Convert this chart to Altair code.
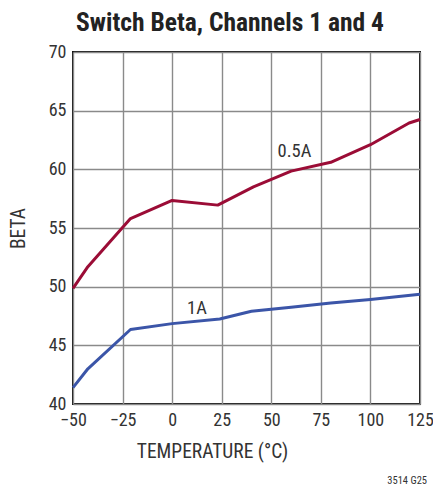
import altair as alt
import pandas as pd

# 0.5A series
t_05 = [-50, -42.5, -21, 0, 23, 41, 60, 80, 100, 119.5, 125]
b_05 = [49.85, 51.7, 55.8, 57.35, 56.95, 58.5, 59.85, 60.6, 62.1, 63.95, 64.25]
# 1A series
t_1 = [-50, -42.5, -21, 0, 24, 40, 60, 80, 100, 125]
b_1 = [41.4, 43.0, 46.35, 46.85, 47.25, 47.9, 48.25, 48.6, 48.9, 49.35]

label_text = ["0.5A", "1A"]
label_t = [61.7, 12.5]
label_b = [61.55, 48.2]

x_ticks = [-50, -25, 0, 25, 50, 75, 100, 125]
y_ticks = [40, 45, 50, 55, 60, 65, 70]

df = pd.concat([
    pd.DataFrame({"t": t_05, "beta": b_05, "series": "0.5A"}),
    pd.DataFrame({"t": t_1, "beta": b_1, "series": "1A"}),
])
lab = pd.DataFrame({"t": label_t, "beta": label_b, "text": label_text})

FONT = "Roboto Condensed, Liberation Sans Narrow, DejaVu Sans Condensed, Liberation Sans, sans-serif"

xs = alt.Scale(domain=[-50, 125], nice=False)
ys = alt.Scale(domain=[40, 70], nice=False)

lines = alt.Chart(df).mark_line(strokeWidth=3, strokeJoin="round").encode(
    x=alt.X("t:Q", scale=xs, axis=alt.Axis(
        values=x_ticks, title="TEMPERATURE (°C)", grid=True, labelFlush=False,
        titleX=139, titleY=53, titleBaseline="alphabetic", titleAlign="center")),
    y=alt.Y("beta:Q", scale=ys, axis=alt.Axis(values=y_ticks, title="BETA", grid=True)),
    color=alt.Color("series:N", scale=alt.Scale(domain=["0.5A", "1A"], range=["#9B0C36", "#3B55A8"]), legend=None),
    detail="series:N",
)

labels = alt.Chart(lab).mark_text(font=FONT, fontSize=18.5, color="#333333").encode(
    x=alt.X("t:Q", scale=xs), y=alt.Y("beta:Q", scale=ys), text="text:N")

foot = alt.Chart(pd.DataFrame({"f": ["3514 G25"]})).mark_text(
    font=FONT, fontSize=10.5, color="#333333", align="right", baseline="alphabetic").encode(
    x=alt.value(354), y=alt.value(432), text="f:N")

chart = alt.layer(lines, labels, foot).properties(
    width=347, height=352,
    padding={"left": 65, "top": 44, "right": 13, "bottom": 86},
    autosize=alt.AutoSizeParams(type="none"),
    title=alt.TitleParams("Switch Beta, Channels 1 and 4", font=FONT, fontSize=25.5,
                          fontWeight="bold", color="#222222", anchor="middle", dx=-16.5, offset=7),
).configure_view(stroke="#111111", strokeWidth=2).configure_axis(
    labelFont=FONT, labelFontSize=18, labelColor="#333333",
    titleFont=FONT, titleFontSize=19.5, titleFontWeight="normal", titleColor="#333333",
    gridColor="#8a8a8a", gridWidth=1.4, gridOpacity=1,
    domain=False, ticks=False, labelPadding=7,
).configure_axisY(titlePadding=20)

chart.save("out.html", embed_options={"renderer": "svg", "actions": False})
